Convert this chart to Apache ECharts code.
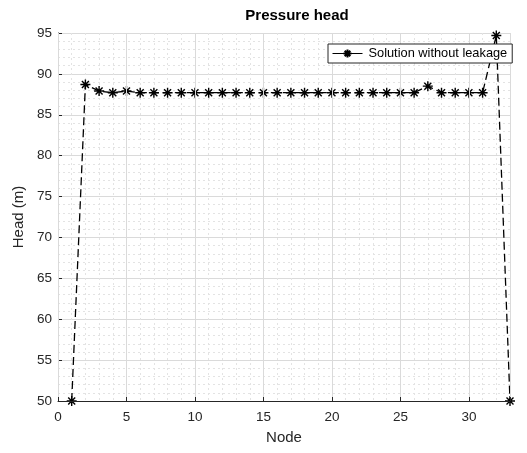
<!DOCTYPE html>
<html>
<head>
<meta charset="utf-8">
<script src="https://cdn.jsdelivr.net/npm/echarts@6/dist/echarts.min.js"></script>
<style>
  html, body { margin: 0; padding: 0; background: #fff; }
  #main { width: 527px; height: 453px; }
</style>
</head>
<body>
<div id="main"></div>
<script>
  // nodes 1..33 and their pressure head (m)
  var nodes = [1, 2, 3, 4, 5, 6, 7, 8, 9, 10, 11, 12, 13, 14, 15, 16, 17, 18, 19, 20,
    21, 22, 23, 24, 25, 26, 27, 28, 29, 30, 31, 32, 33];
  var heads = [50, 88.7, 87.9, 87.7, 87.9, 87.7, 87.7, 87.7, 87.7, 87.7, 87.7, 87.7, 87.7,
    87.7, 87.7, 87.7, 87.7, 87.7, 87.7, 87.7, 87.7, 87.7, 87.7, 87.7, 87.7, 87.7,
    88.5, 87.7, 87.7, 87.7, 87.7, 94.7, 50];
  var seriesName = 'Solution without leakage';

  var font = '"Liberation Sans", Arial, Helvetica, sans-serif';
  var ink = '#262626';
  // asterisk marker like matlab '*'
  var star = 'path://M0,-10L0,10M-10,0L10,0M-7,-7L7,7M-7,7L7,-7';

  var myChart = echarts.init(document.getElementById('main'));
  var option = {
    animation: false,
    backgroundColor: '#fff',
    title: {
      text: 'Pressure head',
      left: 292,
      top: 3,
      textAlign: 'center',
      textStyle: { fontFamily: font, fontSize: 15, fontWeight: 'bold', color: '#000' }
    },
    legend: {
      left: 328,
      top: 44,
      padding: [3, 5, 3, 4],
      borderColor: ink,
      borderWidth: 1,
      borderRadius: 0,
      backgroundColor: '#fff',
      itemWidth: 30,
      itemHeight: 10,
      itemGap: 4,
      z: 10,
      lineStyle: { type: 'solid', width: 1 },
      textStyle: { fontFamily: font, fontSize: 12.8, color: '#000', padding: [0, 0, 0, 1] },
      data: [seriesName]
    },
    grid: {
      left: 58,
      right: 17,
      top: 33,
      bottom: 52,
      show: false
    },
    xAxis: [{
      type: 'value',
      min: 0,
      max: 33,
      interval: 5,
      name: 'Node',
      nameLocation: 'middle',
      nameGap: 29,
      nameTextStyle: { fontFamily: font, fontSize: 15, color: ink },
      axisLine: { lineStyle: { color: ink } },
      axisTick: { inside: true, length: 4, lineStyle: { color: ink } },
      axisLabel: {
        margin: 9,
        fontFamily: font, fontSize: 13.5, color: ink,
        formatter: function (v) { return v % 5 === 0 ? String(v) : ''; }
      },
      splitLine: { show: true, lineStyle: { color: '#dadada', width: 1 } },
      z: 3
    }, {
      // minor grid lines every node
      type: 'value',
      min: 0,
      max: 33,
      interval: 1,
      position: 'bottom',
      axisLine: { show: false },
      axisTick: { show: false },
      axisLabel: { show: false },
      splitLine: { show: true, lineStyle: { color: '#e3e3e3', type: [2, 3], width: 1 } },
      z: 1
    }],
    yAxis: {
      type: 'value',
      min: 50,
      max: 95,
      interval: 5,
      name: 'Head (m)',
      nameLocation: 'middle',
      nameGap: 22,
      nameTextStyle: { fontFamily: font, fontSize: 15, color: ink },
      axisLine: { show: true, lineStyle: { color: ink } },
      axisTick: { show: true, inside: true, length: 4, lineStyle: { color: ink } },
      axisLabel: { margin: 6, fontFamily: font, fontSize: 13.5, color: ink },
      splitLine: { show: true, lineStyle: { color: '#dadada', width: 1 } },
      minorTick: { show: false, splitNumber: 5 },
      minorSplitLine: { show: true, lineStyle: { color: '#e3e3e3', type: [2, 3], width: 1 } }
    },
    series: [{
      name: seriesName,
      type: 'line',
      xAxisIndex: 0,
      data: nodes.map(function (n, i) { return [n, heads[i]]; }),
      symbol: star,
      symbolSize: 10,
      showAllSymbol: true,
      lineStyle: { color: '#000', width: 1.3, type: [8, 4] },
      itemStyle: { color: '#000', borderColor: '#000', borderWidth: 1.4 },
      z: 2
    }]
  };
  myChart.setOption(option);
</script>
</body>
</html>
